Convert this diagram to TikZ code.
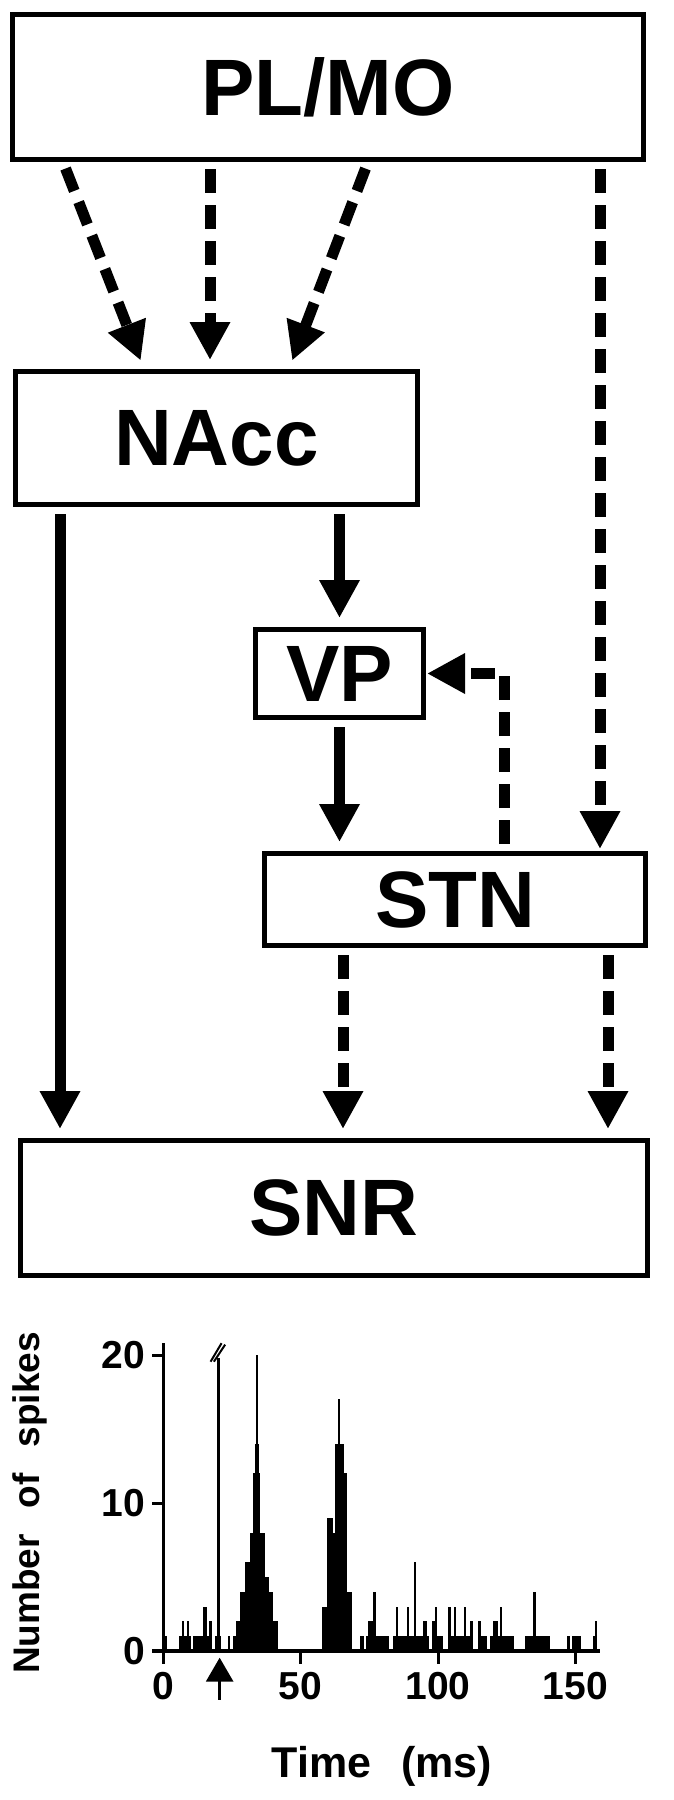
\documentclass[tikz,border=0pt]{standalone}
\usepackage{fontspec}
\setmainfont{Liberation Sans}
\usetikzlibrary{arrows.meta}
\tikzset{>={Triangle[length=38pt,width=38pt]},
  box/.style={draw, line width=5pt, inner sep=0pt, font=\fontsize{80}{80}\selectfont\bfseries},
  solidarrow/.style={->, line width=11pt, shorten <=7pt, shorten >=9pt},
  dasharrow/.style={solidarrow, dash pattern=on 24pt off 12pt},
  ticklabel/.style={inner sep=0pt, font=\fontsize{39}{39}\selectfont\bfseries},
  axislabel/.style={inner sep=0pt, font=\fontsize{43}{43}\selectfont\bfseries}}

\begin{document}
\begin{tikzpicture}[x=1pt, y=-1pt]
\useasboundingbox (0,0) rectangle (673,1800);
% nuclei
\node[box, minimum width=631pt, minimum height=145pt] (plmo) at (328,87) {PL/MO};
\node[box, minimum width=402pt, minimum height=133pt] (nacc) at (216.5,438) {NAcc};
\node[box, minimum width=168pt, minimum height=88pt] (vp) at (339.5,673.5) {VP};
\node[box, minimum width=381pt, minimum height=92pt] (stn) at (455,899.5) {STN};
\node[box, minimum width=627pt, minimum height=135pt] (snr) at (334,1208) {SNR};
% cortical inputs
\draw[dasharrow] ([xshift=-265pt]plmo.south) -- ([xshift=-72.5pt]nacc.north);
\draw[dasharrow] ([xshift=-118pt]plmo.south) -- ([xshift=-6.5pt]nacc.north);
\draw[dasharrow] ([xshift=40pt]plmo.south) -- ([xshift=72.5pt]nacc.north);
\draw[dasharrow, shorten >=2pt] ([xshift=272pt]plmo.south) -- ([xshift=145pt]stn.north);
% striatal outputs
\draw[solidarrow] ([xshift=-156.5pt]nacc.south) -- ([xshift=-274pt]snr.north);
\draw[solidarrow] (nacc.south -| vp.north) -- (vp.north);
\draw[solidarrow] (vp.south) -- (vp.south |- stn.north);
\draw[dasharrow, shorten >=1pt] ([xshift=49pt]stn.north) |- (vp.east);
\draw[dasharrow] ([xshift=-112pt]stn.south) -- ([xshift=-112pt]stn.south |- snr.north);
\draw[dasharrow] ([xshift=153pt]stn.south) -- ([xshift=153pt]stn.south |- snr.north);
% PSTH
\begin{scope}[shift={(163,1651)}, x=2.75pt, y=14.8pt]
\foreach \a/\b/\n in {0/1.6/1, 5.9/6.8/1, 6.8/7.6/2, 7.6/8.6/1, 8.6/9.6/2, 9.6/10.1/1,
    11/14.7/1, 14.7/15.9/3, 15.9/16.8/1, 16.8/17.7/2, 18.9/19.8/1, 20.5/21/1,
    23.8/24.4/1, 25.3/26.5/1, 26.5/28/2, 28/29.8/4, 29.8/31.6/6, 31.6/32.8/8,
    32.8/33.4/12, 33.4/33.8/14, 33.8/34.4/20, 34.4/34.8/14, 34.8/35.3/12, 35.3/37.1/8,
    37.1/38.7/5, 38.7/40.1/4, 40.1/41.9/2,
    57.7/59.75/3, 59.75/61.7/9, 61.7/62.5/8, 62.5/63.7/14, 63.7/64.5/17, 64.5/65.8/14,
    65.8/66.8/12, 66.8/68.8/4,
    71.6/73.1/1, 73.8/74.7/1, 74.7/76.5/2, 76.5/77.3/4, 77.3/82/1, 83.8/84.7/1,
    84.7/85.5/3, 85.5/88.6/1, 88.6/89.4/3, 89.4/91.2/1, 91.2/91.9/6, 91.9/94.6/1,
    94.6/95.9/2, 95.9/96.8/1, 97.7/98.9/2, 98.9/99.7/3, 99.7/101.9/1,
    103.8/104.6/3, 104.6/105.8/1, 105.8/106.6/3, 106.6/109.4/1, 109.4/110.2/3,
    110.2/111.6/1, 111.6/112.8/2, 114.7/115.5/2, 115.5/117.9/1, 118.9/119.9/1,
    119.9/121.9/2, 121.9/122.5/1, 122.5/123.3/3, 123.3/127.6/1, 131.6/134.7/1,
    134.7/135.5/4, 135.5/140.7/1, 146.8/148/1, 148.6/151.9/1, 156.2/157.1/1, 157.1/157.9/2}
  \fill (\a,0) rectangle (\b,\n);
\draw[line width=3pt] (0,20.8) -- (0,0);
\draw[line width=3.5pt] (-4,0) -- (159,0);
\foreach \v in {10,20} \draw[line width=3pt] (-4,\v) -- (0,\v);
\foreach \v in {0,10,20} \node[ticklabel, anchor=east] (yt\v) at (-6.5,\v) {\v};
\foreach \t in {0,50,100,150} {
  \draw[line width=3pt] (\t,0) -- (\t,-0.9);
  \node[ticklabel] (xt\t) at (\t,-2.4) {\t};
}
% stimulus artefact and time of stimulation
\draw[line width=2.5pt] (20.1,0) -- (20.1,19.8);
\draw[line width=2pt] (17.3,19.55) -- (21.3,20.8) (18.5,19.55) -- (22.6,20.7);
\draw[line width=3pt, -{Triangle[length=24pt,width=27pt]}] (20.6,-3.3) -- (20.6,-0.45);
\end{scope}
\node[axislabel, font=\fontsize{37}{37}\selectfont\bfseries, rotate=90] (ylab) at (30,1503) {Number\hspace{26pt}of\hspace{26pt}spikes};
\node[axislabel] (xlab) at (382,1766) {Time\hspace{30pt}(ms)};
\end{tikzpicture}
\end{document}
